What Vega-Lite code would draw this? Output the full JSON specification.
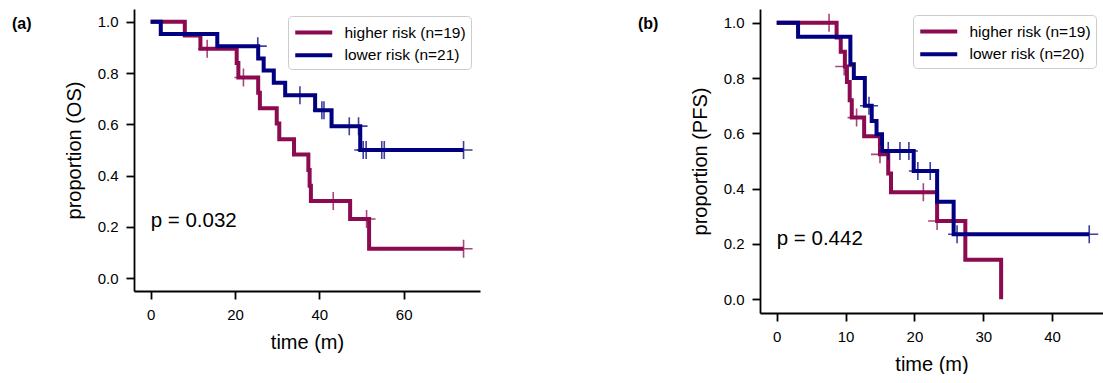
{
  "$schema": "https://vega.github.io/schema/vega-lite/v6.json",
  "padding": {"left": 12, "top": 9, "right": 0, "bottom": 0},
  "background": "white",
  "config": {
    "font": "Liberation Sans",
    "view": {"stroke": null},
    "axis": {
      "domainColor": "#000", "domainWidth": 1.8, "tickColor": "#000", "tickWidth": 1.8, "tickSize": 8,
      "grid": false, "labelFont": "Liberation Sans", "labelFontSize": 15, "labelColor": "#000",
      "titleFont": "Liberation Sans", "titleFontSize": 20, "titleFontWeight": "normal", "titleColor": "#000",
      "labelPadding": 8, "labelFlush": false, "labelOverlap": false
    },
    "axisX": {"titlePadding": 10},
    "axisY": {"titlePadding": 13},
    "legend": {
      "labelFont": "Liberation Sans", "labelFontSize": 15.5, "labelColor": "#000",
      "strokeColor": "#cccccc", "fillColor": "rgba(255,255,255,0.8)", "cornerRadius": 4, "padding": 5,
      "symbolType": "M-1,0H3", "symbolSize": 342, "symbolStrokeWidth": 4, "labelOffset": 28.5, "rowPadding": 2.7
    },
    "title": {"font": "Liberation Sans", "fontSize": 16, "fontWeight": "bold", "color": "#000"}
  },
  "datasets": {
    "osLine": [
      {"t": 0, "s": 1.0, "g": "higher risk (n=19)"},
      {"t": 8.1, "s": 0.947, "g": "higher risk (n=19)"},
      {"t": 11.8, "s": 0.895, "g": "higher risk (n=19)"},
      {"t": 20.4, "s": 0.839, "g": "higher risk (n=19)"},
      {"t": 20.8, "s": 0.783, "g": "higher risk (n=19)"},
      {"t": 25.5, "s": 0.723, "g": "higher risk (n=19)"},
      {"t": 25.9, "s": 0.663, "g": "higher risk (n=19)"},
      {"t": 29.9, "s": 0.603, "g": "higher risk (n=19)"},
      {"t": 30.5, "s": 0.542, "g": "higher risk (n=19)"},
      {"t": 34.0, "s": 0.482, "g": "higher risk (n=19)"},
      {"t": 37.4, "s": 0.422, "g": "higher risk (n=19)"},
      {"t": 37.7, "s": 0.361, "g": "higher risk (n=19)"},
      {"t": 38.0, "s": 0.301, "g": "higher risk (n=19)"},
      {"t": 47.3, "s": 0.231, "g": "higher risk (n=19)"},
      {"t": 51.8, "s": 0.115, "g": "higher risk (n=19)"},
      {"t": 74.2, "s": 0.115, "g": "higher risk (n=19)"},
      {"t": 0, "s": 1.0, "g": "lower risk (n=21)"},
      {"t": 2.4, "s": 0.952, "g": "lower risk (n=21)"},
      {"t": 15.8, "s": 0.905, "g": "lower risk (n=21)"},
      {"t": 25.5, "s": 0.857, "g": "lower risk (n=21)"},
      {"t": 26.8, "s": 0.81, "g": "lower risk (n=21)"},
      {"t": 29.2, "s": 0.762, "g": "lower risk (n=21)"},
      {"t": 31.9, "s": 0.714, "g": "lower risk (n=21)"},
      {"t": 39.0, "s": 0.655, "g": "lower risk (n=21)"},
      {"t": 42.9, "s": 0.593, "g": "lower risk (n=21)"},
      {"t": 49.7, "s": 0.5, "g": "lower risk (n=21)"},
      {"t": 74.2, "s": 0.5, "g": "lower risk (n=21)"}
    ],
    "osCens": [
      {"t": 13.4, "s": 0.895, "g": "higher risk (n=19)"},
      {"t": 22.0, "s": 0.783, "g": "higher risk (n=19)"},
      {"t": 43.3, "s": 0.301, "g": "higher risk (n=19)"},
      {"t": 51.2, "s": 0.231, "g": "higher risk (n=19)"},
      {"t": 74.2, "s": 0.115, "g": "higher risk (n=19)"},
      {"t": 25.4, "s": 0.905, "g": "lower risk (n=21)"},
      {"t": 35.4, "s": 0.714, "g": "lower risk (n=21)"},
      {"t": 40.6, "s": 0.655, "g": "lower risk (n=21)"},
      {"t": 41.1, "s": 0.655, "g": "lower risk (n=21)"},
      {"t": 47.1, "s": 0.593, "g": "lower risk (n=21)"},
      {"t": 49.3, "s": 0.593, "g": "lower risk (n=21)"},
      {"t": 50.4, "s": 0.5, "g": "lower risk (n=21)"},
      {"t": 51.1, "s": 0.5, "g": "lower risk (n=21)"},
      {"t": 54.8, "s": 0.5, "g": "lower risk (n=21)"},
      {"t": 55.4, "s": 0.5, "g": "lower risk (n=21)"},
      {"t": 74.2, "s": 0.5, "g": "lower risk (n=21)"}
    ],
    "osP": [{"t": 0, "s": 0.225, "label": "p = 0.032"}],
    "pfsLine": [
      {"t": 0, "s": 1.0, "g": "higher risk (n=19)"},
      {"t": 8.7, "s": 0.947, "g": "higher risk (n=19)"},
      {"t": 9.3, "s": 0.895, "g": "higher risk (n=19)"},
      {"t": 9.9, "s": 0.842, "g": "higher risk (n=19)"},
      {"t": 10.2, "s": 0.786, "g": "higher risk (n=19)"},
      {"t": 10.6, "s": 0.72, "g": "higher risk (n=19)"},
      {"t": 10.9, "s": 0.657, "g": "higher risk (n=19)"},
      {"t": 12.7, "s": 0.59, "g": "higher risk (n=19)"},
      {"t": 15.0, "s": 0.524, "g": "higher risk (n=19)"},
      {"t": 16.2, "s": 0.455, "g": "higher risk (n=19)"},
      {"t": 16.6, "s": 0.387, "g": "higher risk (n=19)"},
      {"t": 23.3, "s": 0.283, "g": "higher risk (n=19)"},
      {"t": 27.4, "s": 0.143, "g": "higher risk (n=19)"},
      {"t": 32.6, "s": 0.0, "g": "higher risk (n=19)"},
      {"t": 0, "s": 1.0, "g": "lower risk (n=20)"},
      {"t": 3.1, "s": 0.95, "g": "lower risk (n=20)"},
      {"t": 10.7, "s": 0.85, "g": "lower risk (n=20)"},
      {"t": 11.2, "s": 0.8, "g": "lower risk (n=20)"},
      {"t": 12.8, "s": 0.7, "g": "lower risk (n=20)"},
      {"t": 13.8, "s": 0.645, "g": "lower risk (n=20)"},
      {"t": 14.5, "s": 0.597, "g": "lower risk (n=20)"},
      {"t": 15.3, "s": 0.536, "g": "lower risk (n=20)"},
      {"t": 19.9, "s": 0.464, "g": "lower risk (n=20)"},
      {"t": 23.3, "s": 0.353, "g": "lower risk (n=20)"},
      {"t": 25.7, "s": 0.235, "g": "lower risk (n=20)"},
      {"t": 45.4, "s": 0.235, "g": "lower risk (n=20)"}
    ],
    "pfsCens": [
      {"t": 7.6, "s": 1.0, "g": "higher risk (n=19)"},
      {"t": 9.8, "s": 0.842, "g": "higher risk (n=19)"},
      {"t": 11.6, "s": 0.657, "g": "higher risk (n=19)"},
      {"t": 15.0, "s": 0.524, "g": "higher risk (n=19)"},
      {"t": 21.3, "s": 0.387, "g": "higher risk (n=19)"},
      {"t": 23.3, "s": 0.283, "g": "higher risk (n=19)"},
      {"t": 13.4, "s": 0.7, "g": "lower risk (n=20)"},
      {"t": 16.2, "s": 0.536, "g": "lower risk (n=20)"},
      {"t": 17.9, "s": 0.536, "g": "lower risk (n=20)"},
      {"t": 19.2, "s": 0.536, "g": "lower risk (n=20)"},
      {"t": 20.5, "s": 0.464, "g": "lower risk (n=20)"},
      {"t": 22.3, "s": 0.464, "g": "lower risk (n=20)"},
      {"t": 26.2, "s": 0.235, "g": "lower risk (n=20)"},
      {"t": 45.4, "s": 0.235, "g": "lower risk (n=20)"}
    ],
    "pfsP": [{"t": 0, "s": 0.218, "label": "p = 0.442"}]
  },
  "hconcat": [
    {
      "width": 346,
      "height": 282,
      "title": {"text": "(a)", "anchor": "start", "frame": "group", "orient": "top", "offset": 0, "baseline": "middle", "dx": -122, "dy": 31},
      "layer": [
        {
          "data": {"name": "osLine"},
          "mark": {"type": "line", "interpolate": "step-after", "strokeWidth": 4},
          "encoding": {
            "x": {"field": "t", "type": "quantitative", "scale": {"domain": [-3.95, 78.1], "nice": false, "zero": false},
                  "axis": {"values": [0, 20, 40, 60], "title": "time (m)"}},
            "y": {"field": "s", "type": "quantitative", "scale": {"domain": [-0.05, 1.05], "nice": false, "zero": false},
                  "axis": {"values": [0, 0.2, 0.4, 0.6, 0.8, 1.0], "format": ".1f", "title": "proportion (OS)"}},
            "color": {"field": "g", "type": "nominal",
                      "scale": {"domain": ["higher risk (n=19)", "lower risk (n=21)"], "range": ["#8b0a50", "#000080"]},
                      "legend": {"title": null, "orient": "none", "legendX": 154, "legendY": 7}}
          }
        },
        {
          "data": {"name": "osCens"},
          "mark": {"type": "point", "shape": "M-1,0H1M0,-1V1", "filled": false, "size": 324, "strokeWidth": 1.6, "opacity": 0.75},
          "encoding": {
            "x": {"field": "t", "type": "quantitative"},
            "y": {"field": "s", "type": "quantitative"},
            "color": {"field": "g", "type": "nominal", "legend": null}
          }
        },
        {
          "data": {"name": "osP"},
          "mark": {"type": "text", "align": "left", "baseline": "middle", "fontSize": 20.5, "font": "Liberation Sans", "color": "#000"},
          "encoding": {
            "x": {"field": "t", "type": "quantitative"},
            "y": {"field": "s", "type": "quantitative"},
            "text": {"field": "label"}
          }
        }
      ]
    },
    {
      "width": 343,
      "height": 304,
      "title": {"text": "(b)", "anchor": "start", "frame": "group", "orient": "top", "offset": 0, "baseline": "middle", "dx": -122, "dy": 31},
      "layer": [
        {
          "data": {"name": "pfsLine"},
          "mark": {"type": "line", "interpolate": "step-after", "strokeWidth": 4},
          "encoding": {
            "x": {"field": "t", "type": "quantitative", "scale": {"domain": [-2.43, 47.4], "nice": false, "zero": false},
                  "axis": {"values": [0, 10, 20, 30, 40], "title": "time (m)"}},
            "y": {"field": "s", "type": "quantitative", "scale": {"domain": [-0.05, 1.05], "nice": false, "zero": false},
                  "axis": {"values": [0, 0.2, 0.4, 0.6, 0.8, 1.0], "format": ".1f", "title": "proportion (PFS)"}},
            "color": {"field": "g", "type": "nominal",
                      "scale": {"domain": ["higher risk (n=19)", "lower risk (n=20)"], "range": ["#8b0a50", "#000080"]},
                      "legend": {"title": null, "orient": "none", "legendX": 153, "legendY": 6}}
          }
        },
        {
          "data": {"name": "pfsCens"},
          "mark": {"type": "point", "shape": "M-1,0H1M0,-1V1", "filled": false, "size": 324, "strokeWidth": 1.6, "opacity": 0.75},
          "encoding": {
            "x": {"field": "t", "type": "quantitative"},
            "y": {"field": "s", "type": "quantitative"},
            "color": {"field": "g", "type": "nominal", "legend": null}
          }
        },
        {
          "data": {"name": "pfsP"},
          "mark": {"type": "text", "align": "left", "baseline": "middle", "fontSize": 20.5, "font": "Liberation Sans", "color": "#000"},
          "encoding": {
            "x": {"field": "t", "type": "quantitative"},
            "y": {"field": "s", "type": "quantitative"},
            "text": {"field": "label"}
          }
        }
      ]
    }
  ],
  "spacing": 280,
  "bounds": "flush",
  "resolve": {"scale": {"color": "independent"}, "legend": {"color": "independent"}}
}
